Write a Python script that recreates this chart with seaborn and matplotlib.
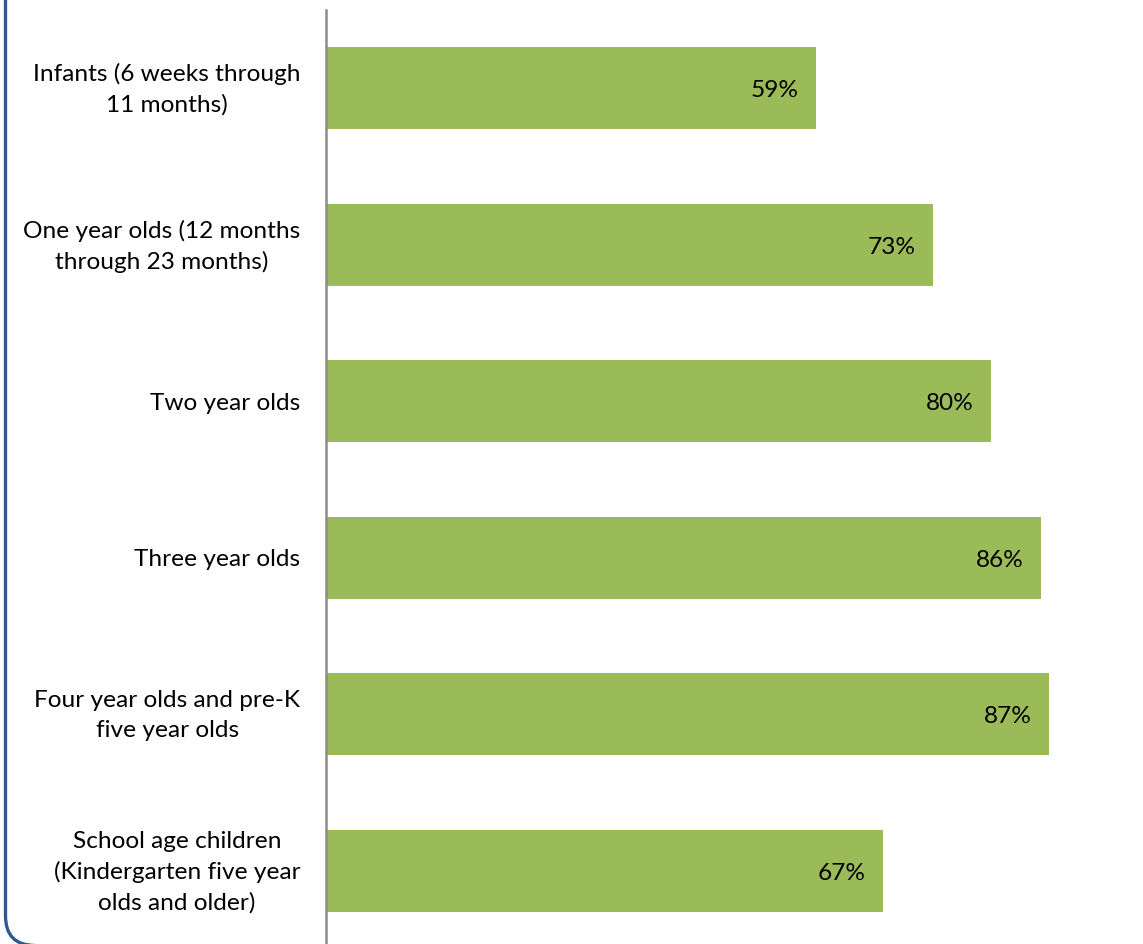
import matplotlib
matplotlib.use("Agg")
import matplotlib.pyplot as plt
from matplotlib.patches import FancyBboxPatch
from matplotlib.transforms import ScaledTranslation
import seaborn as sns
import pandas as pd

categories = [
    "Infants (6 weeks through\n11 months)",
    "One year olds (12 months\nthrough 23 months)",
    "Two year olds",
    "Three year olds",
    "Four year olds and pre-K\nfive year olds",
    "School age children\n(Kindergarten five year\nolds and older)",
]
values = [59, 73, 80, 86, 87, 67]
value_labels = ["59%", "73%", "80%", "86%", "87%", "67%"]

df = pd.DataFrame({"category": categories, "value": values})

sns.set_theme(style="white")
plt.rcParams["font.family"] = ["Lato", "DejaVu Sans"]

W, H = 1143, 944
fig = plt.figure(figsize=(W / 100, H / 100), dpi=100)

# axes spans from the category axis line to the right edge
left_px, top_px, bottom_px = 326, 9.7, 949
ax = fig.add_axes([left_px / W, 1 - bottom_px / H, (W - left_px) / W,
                   (bottom_px - top_px) / H])

bar_color = "#9BBB59"
sns.barplot(data=df, x="value", y="category", ax=ax, color=bar_color,
            width=0.524, saturation=1, edgecolor="none")

ax.set_xlim(0, (W - left_px) / 8.31)
ax.set_xlabel("")
ax.set_ylabel("")
ax.set_xticks([])
for side in ["top", "right", "bottom"]:
    ax.spines[side].set_visible(False)
ax.spines["left"].set_color("#8C8C8C")
ax.spines["left"].set_linewidth(1.8)
ax.tick_params(axis="y", length=0, pad=18.5, labelsize=17.6, labelcolor="black")
for lbl in ax.get_yticklabels():
    lbl.set_horizontalalignment("right")
    lbl.set_multialignment("center")
    lbl.set_linespacing(1.5)
    # keep wrapped labels optically centred on their bar
    if "\n" in lbl.get_text():
        lbl.set_transform(lbl.get_transform()
                          + ScaledTranslation(0, 0.05, fig.dpi_scale_trans))

for container in ax.containers:
    texts = ax.bar_label(container, labels=value_labels, label_type="edge",
                         padding=-12.5, fontsize=17.6, color="black")
    for t in texts:
        t.set_horizontalalignment("right")
        t.xyann = (-12.5, -2)

# rounded frame around the panel
frame = FancyBboxPatch((5.5 / W, -1.5 / H), 1.2, 1.2,
                       boxstyle="round,pad=0,rounding_size=0.026",
                       transform=fig.transFigure, fill=False,
                       edgecolor="#2F5A8C", linewidth=2.4,
                       mutation_aspect=W / H, clip_on=False)
fig.patches.append(frame)

fig.savefig("out.png", dpi=100)
